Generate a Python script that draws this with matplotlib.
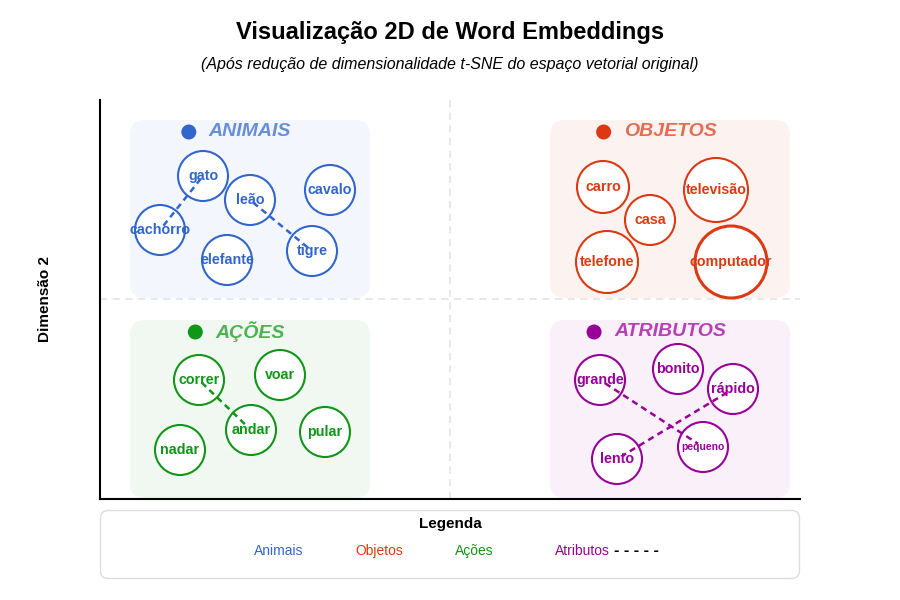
import matplotlib
matplotlib.use("Agg")
import matplotlib.pyplot as plt
from matplotlib.patches import Circle, FancyBboxPatch

plt.rcParams['font.family'] = ['Liberation Sans', 'DejaVu Sans']

# ---------------- data ----------------
groups = ['ANIMAIS', 'OBJETOS', 'AÇÕES', 'ATRIBUTOS']
legend_labels = ['Animais', 'Objetos', 'Ações', 'Atributos']
colors = ['#3366cc', '#dc3912', '#109618', '#990099']

animais_words = ['gato', 'leão', 'cavalo', 'cachorro', 'elefante', 'tigre']
animais_x = [103, 150, 230, 60, 127, 212]
animais_y = [323, 299, 309, 269, 239, 248]
animais_r = [25, 25, 25, 25, 25, 25]

objetos_words = ['carro', 'casa', 'televisão', 'telefone', 'computador']
objetos_x = [503, 550, 616, 507, 631]
objetos_y = [312, 279, 309, 237, 237]
objetos_r = [26, 25, 32, 31, 36]

acoes_words = ['correr', 'voar', 'andar', 'pular', 'nadar']
acoes_x = [99, 180, 151, 225, 80]
acoes_y = [119, 124, 69, 67, 49]
acoes_r = [25, 25, 25, 25, 25]

atrib_words = ['grande', 'bonito', 'rápido', 'pequeno', 'lento']
atrib_x = [500, 578, 633, 603, 517]
atrib_y = [119, 130, 110, 52, 40]
atrib_r = [25, 25, 25, 25, 25]

# cluster regions: (x0, y0, width, height)
regions = [(30, 201, 240, 178), (450, 201, 240, 178),
           (30, 1, 240, 178), (450, 1, 240, 178)]

# related word pairs (dashed)
pairs = [(0, 'gato', 'cachorro'), (0, 'leão', 'tigre'),
         (2, 'correr', 'andar'), (3, 'grande', 'pequeno'), (3, 'rápido', 'lento')]

clusters = [
    (animais_words, animais_x, animais_y, animais_r),
    (objetos_words, objetos_x, objetos_y, objetos_r),
    (acoes_words, acoes_x, acoes_y, acoes_r),
    (atrib_words, atrib_x, atrib_y, atrib_r),
]

# ---------------- figure ----------------
fig = plt.figure(figsize=(9, 6), dpi=100)
ax = fig.add_axes([100/900, 101/600, 700/900, 399/600])
ax.set_xlim(0, 700)
ax.set_ylim(0, 399)
for s in ['top', 'right']:
    ax.spines[s].set_visible(False)
for s in ['left', 'bottom']:
    ax.spines[s].set_linewidth(1.5)
    ax.spines[s].set_color('black')
ax.set_xticks([])
ax.set_yticks([])

# quadrant grid
ax.axvline(350, color='#e6e6e6', lw=1.3, ls=(0, (4, 3)), zorder=0)
ax.axhline(200, color='#e6e6e6', lw=1.3, ls=(0, (4, 3)), zorder=0)

fig.canvas.draw()
renderer = fig.canvas.get_renderer()

for gi, (name, col, reg, cl) in enumerate(zip(groups, colors, regions, clusters)):
    x0, y0, w, h = reg
    box = FancyBboxPatch((x0, y0), w, h, boxstyle="round,pad=0,rounding_size=15",
                         facecolor=col, alpha=0.06, edgecolor='none', zorder=1)
    ax.add_patch(box)
    # header
    hx = x0 + w / 2
    hy = y0 + h - 12
    t = ax.text(hx, hy, name, color=col, alpha=0.72, fontsize=14, fontweight='bold',
                fontstyle='italic', ha='center', va='center', zorder=3)
    bb = t.get_window_extent(renderer=renderer)
    inv = ax.transData.inverted()
    left = inv.transform((bb.x0, bb.y0))[0]
    ax.add_patch(Circle((left - 20, hy), 7.5, facecolor=col, edgecolor='none', zorder=3))

    words, xs, ys, rs = cl
    for wd, x, y, r in zip(words, xs, ys, rs):
        lw = 2.2 if r >= 35 else 1.5
        ax.add_patch(Circle((x, y), r, facecolor='white', edgecolor=col, lw=lw, zorder=2))
        fs = 7.5 if wd == 'pequeno' else 10.3
        ax.text(x, y, wd, color=col, fontsize=fs, fontweight='bold',
                ha='center', va='center', zorder=3)

for gi, a, b in pairs:
    words, xs, ys, rs = clusters[gi]
    ia, ib = words.index(a), words.index(b)
    xa, ya, xb, yb = xs[ia], ys[ia], xs[ib], ys[ib]
    f = 0.05
    ax.plot([xa + (xb - xa) * f, xb - (xb - xa) * f],
            [ya + (yb - ya) * f, yb - (yb - ya) * f],
            color=colors[gi], lw=1.8, ls=(0, (2.5, 1.8)), zorder=4)

# titles
fig.text(0.5, 1 - 32/600, 'Visualização 2D de Word Embeddings', ha='center', va='center',
         fontsize=17, fontweight='bold')
fig.text(0.5, 1 - 64/600, '(Após redução de dimensionalidade t-SNE do espaço vetorial original)',
         ha='center', va='center', fontsize=11.5, fontstyle='italic')
fig.text(45/900, 1 - 299/600, 'Dimensão 2', rotation=90, ha='center', va='center',
         fontsize=11, fontweight='bold')

# legend panel
lax = fig.add_axes([100/900, 21/600, 700/900, 69/600])
lax.set_xlim(0, 700)
lax.set_ylim(0, 69)
lax.axis('off')
lax.add_patch(FancyBboxPatch((0.5, 0.5), 699, 68, boxstyle="round,pad=0,rounding_size=8",
                             facecolor='white', edgecolor='#dddddd', lw=1, clip_on=False))
lax.text(350, 55, 'Legenda', ha='center', va='center', fontsize=11, fontweight='bold')
lefts = [154, 255, 355, 455]
for lbl, col, lx in zip(legend_labels, colors, lefts):
    t = lax.text(lx, 28, lbl, color=col, fontsize=10, ha='left', va='center')
fig.canvas.draw()
bb = t.get_window_extent(renderer=fig.canvas.get_renderer())
xr = lax.transData.inverted().transform((bb.x1, bb.y0))[0]
lax.text(xr + 4, 28.5, '- - - - -', color='black', fontsize=11.5, fontweight='heavy',
         ha='left', va='center')

fig.savefig('out.png', dpi=100)
